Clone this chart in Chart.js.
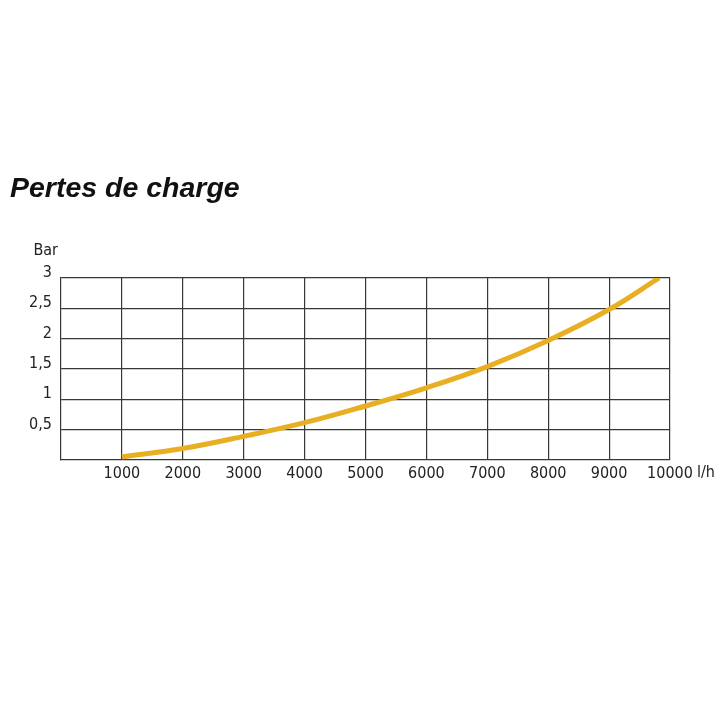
<!DOCTYPE html>
<html>
<head>
<meta charset="utf-8">
<script src="https://cdn.jsdelivr.net/npm/chart.js@4"></script>
<style>
  html, body { margin: 0; padding: 0; background: #fff; }
  #wrap { width: 720px; height: 720px; position: relative; }
</style>
</head>
<body>
<div id="wrap"><canvas id="chartPertes" width="720" height="720"></canvas></div>
<script>
// debit (l/h) and pertes de charge (bar)
const debit = [1000, 2000, 3000, 4000, 5000, 6000, 7000, 8000, 9000, 9820];
const pertes = [0.05, 0.19, 0.39, 0.615, 0.89, 1.19, 1.54, 1.97, 2.48, 3.0];
const xTicks = [1000, 2000, 3000, 4000, 5000, 6000, 7000, 8000, 9000, 10000];
const yTicks = [0.5, 1, 1.5, 2, 2.5, 3];

const narrow = '"DejaVu Sans Condensed", "Liberation Sans Narrow", sans-serif';
const gridColor = '#383838';

// extra text: title, unit labels
const labelsPlugin = {
    id: 'labels',
    afterDraw(chart) {
        const ctx = chart.ctx;
        const area = chart.chartArea;
        ctx.save();
        ctx.fillStyle = '#111';
        ctx.font = 'italic bold 28.5px "Liberation Sans", Arial, sans-serif';
        ctx.textAlign = 'left';
        ctx.textBaseline = 'alphabetic';
        ctx.fillText('Pertes de charge', 10, 197);

        ctx.font = '16px ' + narrow;
        ctx.fillStyle = '#222';
        ctx.textBaseline = 'middle';
        ctx.textAlign = 'right';
        ctx.fillText('Bar', area.left - 3, area.top - 27);
        ctx.textAlign = 'left';
        ctx.fillText('l/h', area.right + 27, area.bottom + 13);
        ctx.restore();
    }
};

let ctxPertes = document.getElementById('chartPertes').getContext('2d');

let chartPertes = new Chart(ctxPertes, {
    type: 'line',
    data: {
        datasets: [{
            data: debit.map((d, i) => ({ x: d, y: pertes[i] })),
            borderColor: '#E8AF22',
            borderWidth: 5,
            pointRadius: 0,
            fill: false,
            tension: 0.4
        }]
    },
    options: {
        responsive: false,
        animation: false,
        layout: {
            padding: { top: 278, left: 0, right: 50, bottom: 220 }
        },
        plugins: {
            legend: { display: false },
            tooltip: { enabled: false }
        },
        scales: {
            x: {
                type: 'linear',
                min: 0,
                max: 10000,
                afterBuildTicks: (scale) => { scale.ticks = xTicks.map(v => ({ value: v })); },
                afterFit: (scale) => { scale.height = 40; },
                grid: { color: gridColor, lineWidth: 1.2, drawTicks: false },
                border: { color: gridColor, width: 1.2 },
                ticks: {
                    color: '#222',
                    font: { family: narrow, size: 16 },
                    padding: 4,
                    maxRotation: 0,
                    autoSkip: false,
                    callback: (v) => String(v)
                }
            },
            y: {
                min: 0,
                max: 3,
                afterBuildTicks: (scale) => { scale.ticks = yTicks.map(v => ({ value: v })); },
                afterFit: (scale) => { scale.width = 61; },
                grid: { color: gridColor, lineWidth: 1.2, drawTicks: false },
                border: { color: gridColor, width: 1.2 },
                ticks: {
                    color: '#222',
                    font: { family: narrow, size: 16 },
                    padding: 9,
                    labelOffset: -5,
                    autoSkip: false,
                    callback: (v) => String(v).replace('.', ',')
                }
            }
        }
    },
    plugins: [labelsPlugin]
});
</script>
</body>
</html>
